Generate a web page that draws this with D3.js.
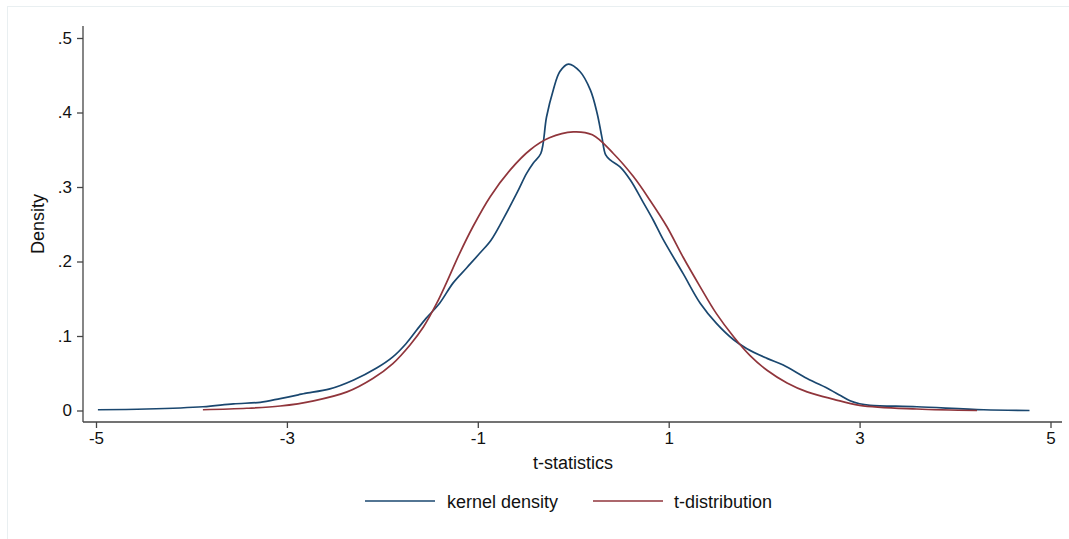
<!DOCTYPE html>
<html>
<head>
<meta charset="utf-8">
<script src="https://cdn.jsdelivr.net/npm/d3@7"></script>
<style>
  html, body { margin: 0; padding: 0; background: #ffffff; }
  svg { display: block; font-family: "Liberation Sans", Arial, Helvetica, sans-serif; }
</style>
</head>
<body>
<svg id="chart" width="1069" height="539"></svg>
<script>
// ---- data ----
const xTicks = [-5, -3, -1, 1, 3, 5];
const yTicks = [0, 0.1, 0.2, 0.3, 0.4, 0.5];
const yTickLabels = ["0", ".1", ".2", ".3", ".4", ".5"];
const seriesNames = ["kernel density", "t-distribution"];

const kdX = [-4.98, -4.47, -3.88, -3.56, -3.28, -3.07, -2.88, -2.81, -2.55, -2.30, -2.06, -1.89, -1.75, -1.64, -1.54, -1.40, -1.26, -1.12, -0.98, -0.86, -0.73, -0.59, -0.49, -0.42, -0.34, -0.28, -0.21, -0.14, -0.05, 0.07, 0.18, 0.25, 0.30, 0.34, 0.39, 0.49, 0.60, 0.73, 0.84, 0.94, 1.15, 1.33, 1.50, 1.68, 1.82, 2.03, 2.20, 2.45, 2.69, 2.80, 2.90, 3.00, 3.11, 3.60, 4.30, 4.78];
const kdY = [0.001, 0.002, 0.005, 0.009, 0.011, 0.016, 0.021, 0.023, 0.029, 0.041, 0.057, 0.072, 0.090, 0.108, 0.124, 0.144, 0.171, 0.191, 0.211, 0.229, 0.258, 0.292, 0.318, 0.332, 0.345, 0.394, 0.430, 0.455, 0.465, 0.455, 0.430, 0.399, 0.367, 0.343, 0.336, 0.327, 0.309, 0.280, 0.255, 0.230, 0.184, 0.144, 0.117, 0.095, 0.083, 0.070, 0.061, 0.043, 0.028, 0.020, 0.013, 0.009, 0.007, 0.005, 0.001, 0.000];

const tdX = [-3.88, -3.42, -3.07, -2.72, -2.37, -2.10, -1.89, -1.71, -1.57, -1.43, -1.33, -1.19, -1.05, -0.87, -0.66, -0.45, -0.25, 0.00, 0.20, 0.42, 0.63, 0.80, 0.98, 1.15, 1.33, 1.50, 1.68, 1.85, 2.03, 2.24, 2.45, 2.73, 3.00, 3.60, 4.23];
const tdY = [0.001, 0.003, 0.006, 0.013, 0.025, 0.043, 0.063, 0.088, 0.112, 0.144, 0.171, 0.211, 0.247, 0.287, 0.323, 0.350, 0.366, 0.374, 0.370, 0.345, 0.314, 0.283, 0.247, 0.206, 0.166, 0.130, 0.099, 0.074, 0.054, 0.037, 0.025, 0.015, 0.007, 0.002, 0.000];

const colors = ["#1a476f", "#90353b"];

// ---- layout ----
const svg = d3.select("#chart");
const axisColor = "#444";

// faint outer graph border
svg.append("rect")
  .attr("x", 7.5).attr("y", 6.5)
  .attr("width", 1080).attr("height", 560)
  .attr("fill", "none").attr("stroke", "#e9eff1").attr("stroke-width", 1);

const x = d3.scaleLinear().domain([-5, 5]).range([96, 1050.5]);
const y = d3.scaleLinear().domain([0, 0.5]).range([410.5, 38]);

const axisLeftX = 83, axisBottomY = 422;

// y axis
const yAxis = svg.append("g").attr("transform", `translate(${axisLeftX},0)`)
  .call(d3.axisLeft(y).tickValues(yTicks).tickSize(6).tickPadding(5)
    .tickFormat((d, i) => yTickLabels[i]));
yAxis.select(".domain").attr("d", `M0,26V${axisBottomY}`);

// x axis
const xAxis = svg.append("g").attr("transform", `translate(0,${axisBottomY})`)
  .call(d3.axisBottom(x).tickValues(xTicks).tickSize(6).tickPadding(4)
    .tickFormat(d3.format("d")));
xAxis.select(".domain").attr("d", `M${axisLeftX},0H1062`);

svg.selectAll(".domain").attr("stroke", axisColor).attr("stroke-width", 1.3);
svg.selectAll(".tick line").attr("stroke", axisColor).attr("stroke-width", 1.3);
svg.selectAll(".tick text").attr("fill", "#111").style("font-size", "17px")
  .style("font-family", "'Liberation Sans', Arial, Helvetica, sans-serif");
xAxis.selectAll(".tick text").text(d => d < 0 ? "-" + Math.abs(d) : d);

// axis titles
svg.append("text")
  .attr("transform", `translate(44,${(26 + axisBottomY) / 2}) rotate(-90)`)
  .attr("text-anchor", "middle")
  .style("font-size", "18px").attr("fill", "#111").text("Density");
svg.append("text")
  .attr("x", 573).attr("y", 469)
  .attr("text-anchor", "middle")
  .style("font-size", "18px").attr("fill", "#111").text("t-statistics");

// lines
const line = d3.line().x(d => x(d[0])).y(d => y(d[1])).curve(d3.curveCatmullRom.alpha(0.5));
const series = [
  d3.zip(kdX, kdY),
  d3.zip(tdX, tdY)
];
series.forEach((s, i) => {
  svg.append("path").datum(s)
    .attr("d", line)
    .attr("fill", "none")
    .attr("stroke", colors[i])
    .attr("stroke-width", 1.7)
    .attr("stroke-linejoin", "round");
});

// legend
const legendItems = [
  { x1: 365, x2: 435, tx: 447 },
  { x1: 593, x2: 663, tx: 674 }
];
legendItems.forEach((li, i) => {
  svg.append("line")
    .attr("x1", li.x1).attr("x2", li.x2)
    .attr("y1", 501).attr("y2", 501)
    .attr("stroke", colors[i]).attr("stroke-width", 1.7);
  svg.append("text")
    .attr("x", li.tx).attr("y", 508)
    .style("font-size", "18px").attr("fill", "#111")
    .text(seriesNames[i]);
});
</script>
</body>
</html>
